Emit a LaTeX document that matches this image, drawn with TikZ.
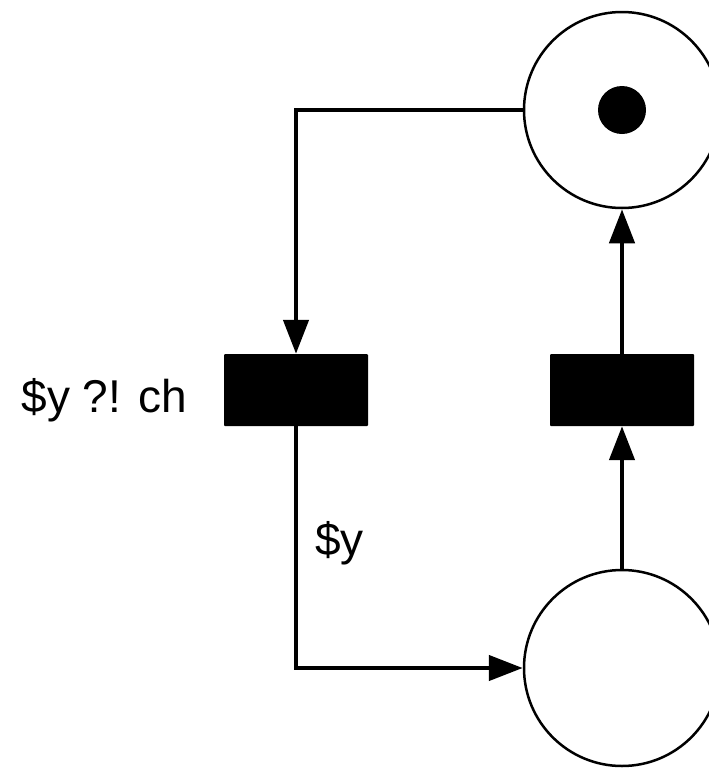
\documentclass[tikz,border=0pt]{standalone}
\usepackage{fontspec}
\setmainfont{Liberation Sans}
\usetikzlibrary{arrows.meta, positioning}

\begin{document}
\begin{tikzpicture}[x=1pt, y=-1pt,
            place/.style={circle, draw=black, line width=2.5pt, fill=white, minimum size=196pt, inner sep=0pt},
            token/.style={circle, fill=black, minimum size=48pt, inner sep=0pt},
            trans/.style={rectangle, fill=black, rounded corners=1pt, minimum width=144pt, minimum height=72pt, inner sep=0pt},
            arc/.style={-{Triangle[length=34pt, width=25pt]}, line width=4.5pt, color=black},
            lbl/.style={font=\fontsize{46}{50}\selectfont, inner sep=0pt}
        ]
            \useasboundingbox (0,0) rectangle (709,774);

            % Places
            \node[place] (full) at (622,110) {};
            \node[token] (tok) at (full.center) {};
            \node[place] (empty) at (622,668) {};

            % Transitions
            \node[trans] (recv) at (296,390) {};
            \node[trans] (back) at (622,390) {};

            % Labels
            \node[lbl, anchor=base east] (guard) at (187,412) {\$y ?! ch};
            \node[lbl, anchor=base west] (outvar) at (315,555) {\$y};

            % Arcs
            \draw[arc] (full.west) -| (recv.north);
            \draw[arc] (recv.south) |- (empty.west);
            \draw[arc] (empty.north) -- (back.south);
            \draw[arc] (back.north) -- (full.south);
        \end{tikzpicture}
\end{document}
